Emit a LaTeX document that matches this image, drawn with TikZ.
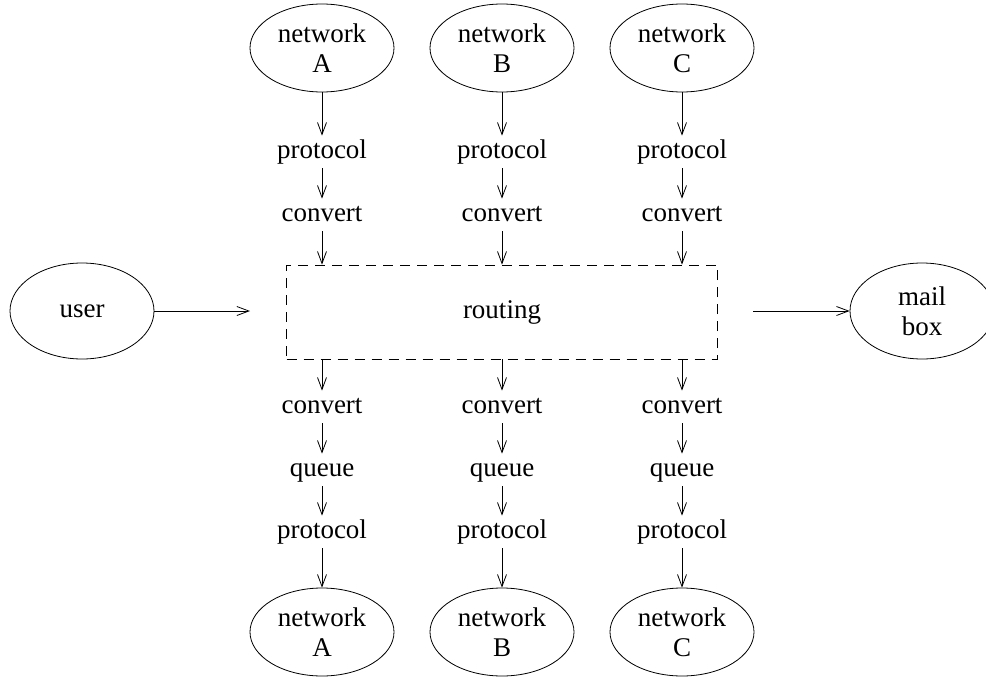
\documentclass[tikz,border=0pt]{standalone}
\usepackage{fontspec}
\setmainfont{Liberation Serif}
\usetikzlibrary{shapes.geometric,arrows.meta}
\tikzstyle{net} = [draw, ellipse, minimum width=72pt, minimum height=44pt, inner sep=0pt, align=center]
\tikzstyle{stage} = [inner sep=2pt, text height=9pt, text depth=3pt]
\tikzstyle{line} = [draw, -{Straight Barb[length=6pt,width=4.5pt]}]

\begin{document}
\begin{tikzpicture}[x=0.5pt,y=-0.5pt,font=\fontsize{13.5}{15}\selectfont]

\useasboundingbox (0,0) rectangle (986,680);

%\draw[help lines] (0,0) grid (986,680);

\node[draw, dashed, dash pattern=on 5pt off 3.5pt, minimum width=215.5pt, minimum height=47pt] (routing) at (502,312) {routing};

\node[net, minimum height=48pt] (user) at (82,311) {user};
\node[net, minimum height=48pt] (mailbox) at (922,311) {mail\\box};
\coordinate (userend) at (250,311);
\coordinate (boxstart) at (753,311);
\path[line] (user) -- (userend);
\path[line] (boxstart) -- (mailbox);

\foreach \x/\n in {322/A,502/B,682/C} {
	\node[net] (top\n) at (\x,48) {network\\\n};
	\node[stage] (tp\n) at (\x,152) {protocol};
	\node[stage] (tc\n) at (\x,215) {convert};
	\node[stage] (bc\n) at (\x,407) {convert};
	\node[stage] (bq\n) at (\x,470) {queue};
	\node[stage] (bp\n) at (\x,532) {protocol};
	\node[net] (bot\n) at (\x,632) {network\\\n};
	\path[line] (top\n) -- (tp\n);
	\path[line] (tp\n) -- (tc\n);
	\path[line] (tc\n) -- (tc\n |- routing.north);
	\path[line] (routing.south -| bc\n) -- (bc\n);
	\path[line] (bc\n) -- (bq\n);
	\path[line] (bq\n) -- (bp\n);
	\path[line] (bp\n) -- (bot\n);
}
\end{tikzpicture}
\end{document}
